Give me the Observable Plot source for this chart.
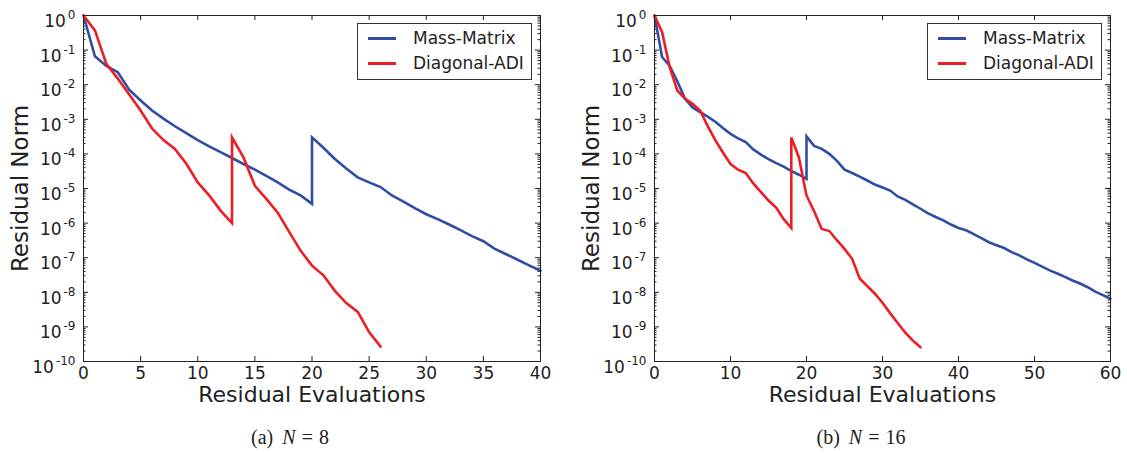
<!DOCTYPE html>
<html><head><meta charset="utf-8">
<script src="https://cdn.jsdelivr.net/npm/d3@7"></script>
<script src="https://cdn.jsdelivr.net/npm/@observablehq/plot@0.6"></script>
<style>
html,body{margin:0;padding:0;background:#fff;}
#wrap{position:relative;width:1127px;height:453px;font-family:"DejaVu Sans",sans-serif;color:#222;}
.panel{position:absolute;top:0;}
.legend{position:absolute;top:23px;height:57px;border:1px solid #333;background:#fff;font-size:17px;color:#222;box-sizing:border-box;}
.legend .row{position:absolute;left:0;height:20px;line-height:20px;white-space:nowrap;}
.legend .sw{position:absolute;left:10px;top:9px;width:28px;height:3px;}
.legend .lab{position:absolute;left:55px;top:0;}
.caption{position:absolute;top:427px;left:190px;width:200px;line-height:20px;text-align:center;font-family:"Liberation Serif","DejaVu Serif",serif;font-size:20px;color:#222;white-space:nowrap;}
.caption i{margin-left:9px;margin-right:6px;}
.caption .eq{margin-right:6px;}
</style>
</head><body>
<div id="wrap"></div>
<script>
// ---- data ----
const methods = ["Mass-Matrix", "Diagonal-ADI"];
const methodColors = ["#2f4ea3", "#ee1d25"];
const yExponents = [0, -1, -2, -3, -4, -5, -6, -7, -8, -9, -10];
const xTicksA = [0, 5, 10, 15, 20, 25, 30, 35, 40];
const xTicksB = [0, 10, 20, 30, 40, 50, 60];

// (a) N = 8
const massRestartA = 20;
const massA_pre = [1, 6.6e-2, 3.5e-2, 2.3e-2, 7.2e-3, 3.5e-3, 1.8e-3, 1.05e-3, 6.3e-4, 4.0e-4, 2.5e-4, 1.66e-4, 1.12e-4, 7.6e-5, 5.1e-5, 3.5e-5, 2.3e-5, 1.5e-5, 9.3e-6, 6.3e-6, 3.6e-6];
const massA_post = [3.0e-4, 1.5e-4, 7.1e-5, 3.8e-5, 2.1e-5, 1.5e-5, 1.1e-5, 6.3e-6, 4.2e-6, 2.7e-6, 1.8e-6, 1.3e-6, 9.1e-7, 6.3e-7, 4.2e-7, 3.0e-7, 1.8e-7, 1.26e-7, 8.7e-8, 6.0e-8, 4.2e-8];
const adiRestartA = 13;
const adiA_pre = [1, 0.37, 0.040, 0.015, 5.2e-3, 1.8e-3, 5.4e-4, 2.5e-4, 1.4e-4, 5.2e-5, 1.5e-5, 6.3e-6, 2.3e-6, 1.0e-6];
const adiA_post = [3.0e-4, 7.9e-5, 1.2e-5, 5.0e-6, 2.0e-6, 5.6e-7, 1.6e-7, 5.9e-8, 3.1e-8, 1.1e-8, 4.9e-9, 2.7e-9, 7.1e-10, 2.7e-10];

// (b) N = 16
const massRestartB = 20;
const massB_pre = [1, 6.3e-2, 3.5e-2, 1.26e-2, 4.0e-3, 2.2e-3, 1.6e-3, 1.2e-3, 8.5e-4, 5.6e-4, 3.8e-4, 2.8e-4, 2.2e-4, 1.35e-4, 9.5e-5, 7.1e-5, 5.4e-5, 4.3e-5, 3.2e-5, 2.5e-5, 1.9e-5];
const massB_post = [3.2e-4, 1.7e-4, 1.4e-4, 1.0e-4, 6.3e-5, 3.5e-5, 2.8e-5, 2.2e-5, 1.7e-5, 1.3e-5, 1.07e-5, 8.7e-6, 5.9e-6, 4.7e-6, 3.5e-6, 2.6e-6, 1.9e-6, 1.5e-6, 1.2e-6, 9.1e-7, 7.2e-7, 6.2e-7, 4.8e-7, 3.7e-7, 2.8e-7, 2.3e-7, 1.9e-7, 1.45e-7, 1.17e-7, 8.9e-8, 7.1e-8, 5.5e-8, 4.3e-8, 3.5e-8, 2.8e-8, 2.2e-8, 1.8e-8, 1.4e-8, 1.05e-8, 8.3e-9, 6.5e-9];
const adiRestartB = 18;
const adiB_pre = [1, 0.33, 0.032, 6.8e-3, 4.0e-3, 2.8e-3, 1.8e-3, 6.3e-4, 2.5e-4, 1.1e-4, 5.1e-5, 3.5e-5, 2.8e-5, 1.4e-5, 7.9e-6, 4.5e-6, 2.8e-6, 1.3e-6, 7.2e-7];
const adiB_post = [3.0e-4, 7.9e-5, 6.3e-6, 2.2e-6, 6.8e-7, 5.9e-7, 3.2e-7, 1.8e-7, 9.3e-8, 2.5e-8, 1.5e-8, 9.1e-9, 5.0e-9, 2.5e-9, 1.3e-9, 6.8e-10, 4.0e-10, 2.6e-10];

const captionA = "(a)";
const captionB = "(b)";
const nA = 8, nB = 16;

// ---- build rows (pre-restart then post-restart, same line -> vertical jump) ----
function rows(method, restart, pre, post) {
  const out = [];
  pre.forEach((v, i) => out.push({method, evals: i, residual: v}));
  post.forEach((v, i) => out.push({method, evals: restart + i, residual: v}));
  return out;
}
const dataA = [...rows(methods[0], massRestartA, massA_pre, massA_post), ...rows(methods[1], adiRestartA, adiA_pre, adiA_post)];
const dataB = [...rows(methods[0], massRestartB, massB_pre, massB_post), ...rows(methods[1], adiRestartB, adiB_pre, adiB_post)];

const yTicks = yExponents.map(e => Math.pow(10, e));
const yMinor = [];
yExponents.slice(1).forEach(e => { for (let k = 2; k <= 9; k++) yMinor.push(k * Math.pow(10, e)); });

const ML = 83, MT = 15, MB = 44, H = 405;
function panel(width, marginRight, xDomain, xTicks, data) {
  const pw = width - ML - marginRight, ph = H - MT - MB;
  const svg = Plot.plot({
    width, height: H, marginLeft: ML, marginRight, marginTop: MT, marginBottom: MB,
    style: {fontFamily: "'DejaVu Sans', sans-serif", fontSize: "17px", color: "#222", background: "transparent", overflow: "visible"},
    x: {domain: xDomain},
    y: {type: "log", domain: [1e-10, 1]},
    color: {domain: methods, range: methodColors},
    marks: [
      Plot.axisX(xTicks, {anchor: "bottom", tickSize: 0, tickPadding: 5, label: null, fontSize: 17, tickFormat: d => String(d)}),
      Plot.axisY(yTicks, {anchor: "left", tickSize: 0, tickPadding: 8, label: null, fontSize: 17, tickFormat: d => "10^" + Math.round(Math.log10(d))}),
      Plot.ruleX(xTicks, {x: d => d, insetTop: ph - 5, stroke: "#222"}),
      Plot.ruleX(xTicks, {x: d => d, insetBottom: ph - 5, stroke: "#222"}),
      Plot.ruleY(yTicks, {y: d => d, insetRight: pw - 5, stroke: "#222"}),
      Plot.ruleY(yTicks, {y: d => d, insetLeft: pw - 5, stroke: "#222"}),
      Plot.ruleY(yMinor, {y: d => d, insetRight: pw - 2.5, stroke: "#222"}),
      Plot.ruleY(yMinor, {y: d => d, insetLeft: pw - 2.5, stroke: "#222"}),
      Plot.line(data, {x: "evals", y: "residual", z: "method", stroke: "method", strokeWidth: 2.6, strokeLinejoin: "miter", strokeMiterlimit: 4}),
      Plot.frame({stroke: "#222", strokeWidth: 1}),
      Plot.text(["Residual Norm"], {frameAnchor: "left", textAnchor: "middle", lineAnchor: "middle", dx: -63, rotate: -90, fontSize: 23, fill: "#222"}),
      Plot.text(["Residual Evaluations"], {frameAnchor: "bottom", textAnchor: "middle", lineAnchor: "middle", dy: 33, fontSize: 22, fill: "#222"})
    ]
  });
  const ns = "http://www.w3.org/2000/svg";
  svg.querySelectorAll('g[aria-label="y-axis tick label"] text').forEach(t => {
    const s = t.textContent;
    const [b, e] = s.split("^");
    while (t.firstChild) t.removeChild(t.firstChild);
    const t1 = document.createElementNS(ns, "tspan");
    t1.setAttribute("dy", "6");
    t1.textContent = b;
    const t2 = document.createElementNS(ns, "tspan");
    t2.setAttribute("dy", "-8");
    t2.setAttribute("dx", "2");
    t2.setAttribute("font-size", "12");
    t2.textContent = e;
    t.appendChild(t1); t.appendChild(t2);
  });
  return svg;
}

function legend() {
  const lg = document.createElement("div");
  lg.className = "legend";
  methods.forEach((m, i) => {
    const r = document.createElement("div");
    r.className = "row";
    r.style.top = (i === 0 ? 4 : 29) + "px";
    r.innerHTML = `<div class="sw" style="background:${methodColors[i]}"></div><div class="lab">${m}</div>`;
    lg.appendChild(r);
  });
  return lg;
}

function addPanel(left, width, marginRight, xDomain, xTicks, data, cap, n, legendLeft) {
  const div = document.createElement("div");
  div.className = "panel";
  div.style.left = left + "px";
  div.style.width = width + "px";
  div.style.height = "453px";
  div.appendChild(panel(width, marginRight, xDomain, xTicks, data));
  const lg = legend();
  lg.style.left = legendLeft + "px";
  lg.style.width = (width - marginRight - 8 - legendLeft) + "px";
  div.appendChild(lg);
  const c = document.createElement("div");
  c.className = "caption";
  c.innerHTML = `${cap}<i>N</i><span class="eq">=</span>${n}`;
  div.appendChild(c);
  document.getElementById("wrap").appendChild(div);
}

addPanel(0, 571, 31, [0, 40], xTicksA, dataA, captionA, nA, 357);
addPanel(571, 556, 17, [0, 60], xTicksB, dataB, captionB, nB, 356);
</script>
</body></html>
